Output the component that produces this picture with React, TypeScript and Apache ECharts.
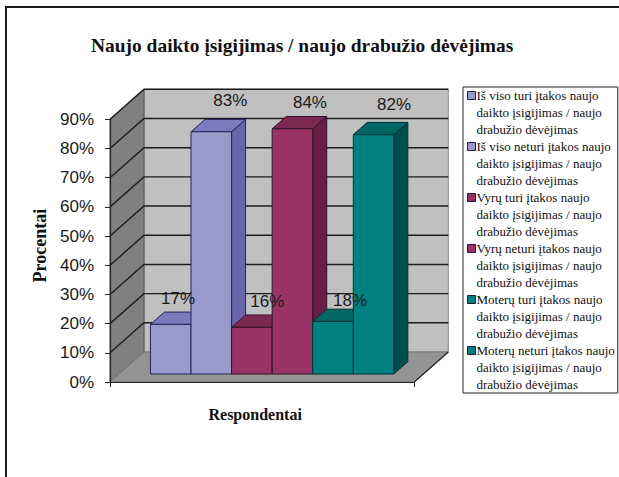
import React, { useEffect, useRef } from "react";
import * as echarts from "echarts";

const titleText = "Naujo daikto įsigijimas / naujo drabužio dėvėjimas";
const xName = "Respondentai";
const yName = "Procentai";
const categories = ["Respondentai"];
const yTicks = [0, 10, 20, 30, 40, 50, 60, 70, 80, 90];
const seriesNames = [
  "Iš viso turi įtakos naujo\ndaikto įsigijimas / naujo\ndrabužio dėvėjimas",
  "Iš viso neturi įtakos naujo\ndaikto įsigijimas / naujo\ndrabužio dėvėjimas",
  "Vyrų turi įtakos naujo\ndaikto įsigijimas / naujo\ndrabužio dėvėjimas",
  "Vyrų neturi įtakos naujo\ndaikto įsigijimas / naujo\ndrabužio dėvėjimas",
  "Moterų turi įtakos naujo\ndaikto įsigijimas / naujo\ndrabužio dėvėjimas",
  "Moterų neturi įtakos naujo\ndaikto įsigijimas / naujo\ndrabužio dėvėjimas",
];
const values = [17, 83, 16, 84, 18, 82];

const faceColors = ["#9999CC", "#9999CC", "#993366", "#993366", "#008080", "#008080"];
const topColors = ["#7A7ABD", "#7A7ABD", "#7A2952", "#7A2952", "#006666", "#006666"];
const sideColors = ["#6666AA", "#6666AA", "#661F45", "#661F45", "#004D4D", "#004D4D"];
const edgeColors = ["#25255A", "#25255A", "#33102A", "#33102A", "#003333", "#003333"];

// Layout of the fake 3D box
const WALL = { dx: 34, dy: -30 };
const BAR_PLANE = { dx: 10, dy: -8 };
const BAR_DEPTH = { dx: 14, dy: -12.3 };
const LABEL_NUDGE = [
  [7.3, -26],
  [19, -31.7],
  [15.5, -25.6],
  [17.5, -26],
  [17, -21],
  [20.4, -30],
];
const LEGEND_ICON = "path://M0 3.5H8V11.5H0Z M0 0L0 0 M8 49L8 49";

const pts = (a: number[][]) => ({ points: a });

function renderWalls(params: any, api: any) {
  const cs = params.coordSys;
  const left = cs.x;
  const right = cs.x + cs.width;
  const y0 = api.coord([0, 0])[1];
  const yTop = api.coord([0, yTicks[yTicks.length - 1]])[1];
  const { dx, dy } = WALL;
  const children: any[] = [
    {
      type: "polygon",
      shape: pts([[left + dx, y0 + dy], [right + dx, y0 + dy], [right + dx, yTop + dy], [left + dx, yTop + dy]]),
      style: { fill: "#C0C0C0", stroke: "#8a8a8a", lineWidth: 1 },
    },
    {
      type: "polygon",
      shape: pts([[left, y0], [left + dx, y0 + dy], [left + dx, yTop + dy], [left, yTop]]),
      style: { fill: "#808080", stroke: "#555", lineWidth: 1 },
    },
    {
      type: "polygon",
      shape: pts([[left, y0], [right, y0], [right + dx, y0 + dy], [left + dx, y0 + dy]]),
      style: { fill: "#949494", stroke: "#777", lineWidth: 1 },
    },
    {
      type: "line",
      shape: { x1: right, y1: y0, x2: right + dx, y2: y0 + dy },
      style: { stroke: "#222", lineWidth: 1.2 },
    },
  ];
  yTicks.slice(1).forEach((t) => {
    const y = api.coord([0, t])[1];
    children.push({
      type: "polyline",
      shape: pts([[left, y], [left + dx, y + dy], [right + dx, y + dy]]),
      style: { fill: "none", stroke: "#1c1c1c", lineWidth: 1.4 },
    });
  });
  return { type: "group", children };
}

function makeBar(i: number) {
  return (_params: any, api: any) => {
    const band = api.size([1, 0])[0];
    const w = (band * 0.8) / values.length;
    const top = api.coord([api.value(0), api.value(1)]);
    const base = api.coord([api.value(0), 0]);
    const x0 = top[0] - (w * values.length) / 2 + i * w + BAR_PLANE.dx;
    const x1 = x0 + w;
    const yT = top[1] + BAR_PLANE.dy;
    const yB = base[1] + BAR_PLANE.dy;
    const { dx, dy } = BAR_DEPTH;
    const stroke = edgeColors[i];
    return {
      type: "group",
      children: [
        {
          type: "polygon",
          shape: pts([[x1, yT], [x1 + dx, yT + dy], [x1 + dx, yB + dy], [x1, yB]]),
          style: { fill: sideColors[i], stroke, lineWidth: 1 },
        },
        {
          type: "polygon",
          shape: pts([[x0, yT], [x0 + dx, yT + dy], [x1 + dx, yT + dy], [x1, yT]]),
          style: { fill: topColors[i], stroke, lineWidth: 1 },
        },
        {
          type: "rect",
          shape: { x: x0, y: yT, width: w, height: yB - yT },
          style: { fill: faceColors[i], stroke, lineWidth: 1 },
        },
      ],
    };
  };
}

function renderLabel(params: any, api: any) {
  const i = params.dataIndex;
  const band = api.size([1, 0])[0];
  const w = (band * 0.8) / values.length;
  const p = api.coord([0, api.value(1)]);
  const cx = p[0] - (w * values.length) / 2 + (i + 0.5) * w + BAR_PLANE.dx;
  const cy = p[1] + BAR_PLANE.dy;
  return {
    type: "text",
    x: cx + LABEL_NUDGE[i][0],
    y: cy + LABEL_NUDGE[i][1],
    style: {
      text: values[i] + "%",
      fill: "#1a1a1a",
      font: '17px "Liberation Sans"',
      align: "center",
      verticalAlign: "middle",
    },
  };
}

export default function App() {
  const ref = useRef<HTMLDivElement>(null);
  useEffect(() => {
    const chart = echarts.init(ref.current!, undefined, { renderer: "svg" });
    chart.setOption({
      animation: false,
      backgroundColor: "#fff",
      title: {
        text: titleText,
        left: 91,
        top: 36,
        padding: 0,
        textStyle: { fontFamily: "Liberation Serif", fontWeight: "bold", fontSize: 19.45, color: "#111" },
      },
      grid: { left: 110, right: 204.7, top: 119.3, bottom: 95 },
      legend: {
        orient: "vertical",
        left: 463,
        top: 87,
        padding: [0, 3, 0, 4],
        itemGap: 0,
        itemWidth: 8,
        itemHeight: 49,
        selectedMode: false,
        backgroundColor: "#fff",
        borderColor: "#222",
        borderWidth: 1,
        borderRadius: 0,
        textStyle: {
          fontFamily: "Liberation Serif",
          fontSize: 13,
          lineHeight: 17,
          color: "#111",
          padding: [0, 0, 0, -4],
        },
        data: seriesNames.map((name, i) => ({
          name,
          icon: LEGEND_ICON,
          itemStyle: { color: faceColors[i], borderColor: "#1c1c3c", borderWidth: 1 },
        })),
      },
      xAxis: {
        type: "category",
        data: categories,
        z: 5,
        name: xName,
        nameLocation: "middle",
        nameGap: 24,
        nameTextStyle: {
          fontFamily: "Liberation Serif",
          fontWeight: "bold",
          fontSize: 16,
          color: "#111",
          padding: [0, 14, 0, 0],
        },
        axisLine: { lineStyle: { color: "#222", width: 1.2 } },
        axisTick: { show: true, length: 5, lineStyle: { color: "#222" } },
        axisLabel: { show: false },
      },
      yAxis: {
        type: "value",
        min: 0,
        max: 90,
        interval: 10,
        z: 5,
        name: yName,
        nameLocation: "middle",
        nameGap: 61,
        nameTextStyle: {
          fontFamily: "Liberation Serif",
          fontWeight: "bold",
          fontSize: 18,
          color: "#111",
          padding: [0, 0, 0, 10],
        },
        axisLine: { show: true, lineStyle: { color: "#222", width: 1.2 } },
        axisTick: { show: true, length: 5, lineStyle: { color: "#222" } },
        axisLabel: {
          formatter: "{value}%",
          margin: 16,
          fontFamily: "Liberation Sans",
          fontSize: 17,
          color: "#1a1a1a",
        },
        splitLine: { show: false },
      },
      graphic: [
        {
          type: "polyline",
          shape: { points: [[6, 477], [6, 7], [619, 7]] },
          style: { fill: "none", stroke: "#1c1c1c", lineWidth: 2 },
        },
      ],
      series: [
        { type: "custom", name: "walls", z: 1, clip: false, silent: true, renderItem: renderWalls, data: [[0, 0]] },
        ...seriesNames.map((name, i) => ({
          type: "custom",
          name,
          z: 2,
          clip: false,
          itemStyle: { color: faceColors[i] },
          renderItem: makeBar(i),
          encode: { x: 0, y: 1 },
          data: [[0, values[i]]],
        })),
        {
          type: "custom",
          name: "labels",
          z: 3,
          clip: false,
          silent: true,
          renderItem: renderLabel,
          encode: { x: 0, y: 1 },
          data: values.map((v) => [0, v]),
        },
      ],
    });
    return () => chart.dispose();
  }, []);
  return <div ref={ref} style={{ position: "absolute", left: 0, top: 0, width: 619, height: 477 }} />;
}
